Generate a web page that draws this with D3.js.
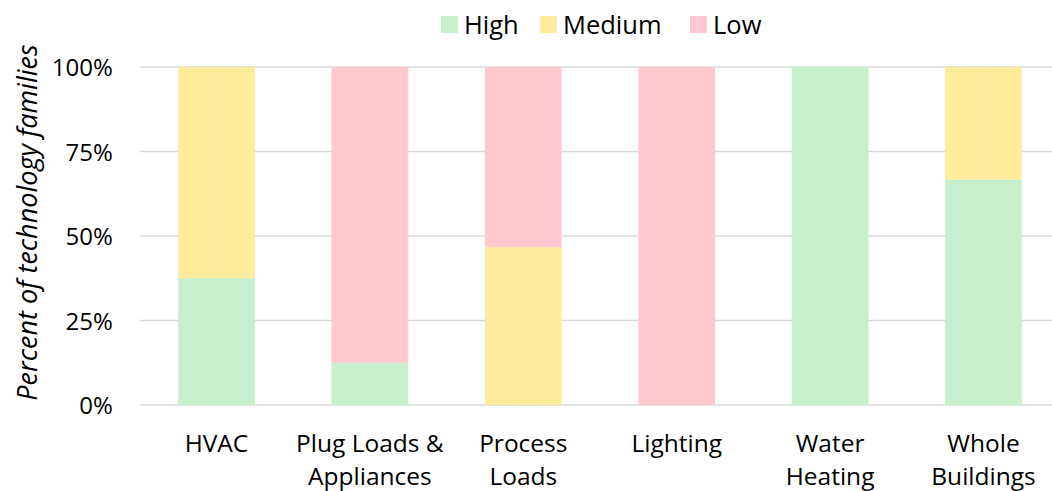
<!DOCTYPE html>
<html>
<head>
<meta charset="utf-8">
<script src="https://cdn.jsdelivr.net/npm/d3@7"></script>
<style>
  html, body { margin: 0; padding: 0; background: #fff; }
  svg { display: block; }
  text { font-family: "Open Sans", Lato, sans-serif; fill: #000; }
</style>
</head>
<body>
<svg id="chart" width="1052" height="491"></svg>
<script>
// Technology families by readiness, share of each end-use category
const categories = [["HVAC"], ["Plug Loads &", "Appliances"], ["Process", "Loads"], ["Lighting"], ["Water", "Heating"], ["Whole", "Buildings"]];
const seriesNames = ["High", "Medium", "Low"];
const highValues   = [0.375, 0.125, 0,     0, 1, 0.667];
const mediumValues = [0.625, 0,     0.467, 0, 0, 0.333];
const lowValues    = [0,     0.875, 0.533, 1, 0, 0];
const seriesColors = ["#C6EFCE", "#FFEB9C", "#FFC7CE"];
const yTicks = [0, 0.25, 0.5, 0.75, 1];

const svg = d3.select("#chart");
const W = 1052, H = 491;
const margin = { left: 139.8, right: -8.2, top: 67, bottom: 86 };

const rows = categories.map((c, i) => ({
  key: i, label: c, High: highValues[i], Medium: mediumValues[i], Low: lowValues[i]
}));

const x = d3.scaleBand()
  .domain(rows.map(r => r.key))
  .range([margin.left, W - margin.right])
  .paddingInner(0.5).paddingOuter(0.25);

const y = d3.scaleLinear().domain([0, 1]).range([H - margin.bottom, margin.top]);

const color = d3.scaleOrdinal().domain(seriesNames).range(seriesColors);

// Gridlines
svg.append("g")
  .selectAll("line").data(yTicks).join("line")
  .attr("x1", margin.left).attr("x2", W)
  .attr("y1", d => y(d)).attr("y2", d => y(d))
  .attr("stroke", "#d9d9d9").attr("stroke-width", 1.5);

// Y-axis tick labels
const yAxis = d3.axisLeft(y).tickValues(yTicks).tickFormat(d3.format(".0%")).tickSize(0).tickPadding(0);
const gy = svg.append("g").attr("transform", `translate(${margin.left - 27},0)`).call(yAxis);
gy.select(".domain").remove();
gy.selectAll("text").attr("font-size", 24).attr("font-family", "'Open Sans', sans-serif").attr("dy", "0.36em");

// Stacked bars
const stack = d3.stack().keys(seriesNames);
const stacked = stack(rows);
svg.append("g").selectAll("g").data(stacked).join("g")
  .attr("fill", d => color(d.key))
  .selectAll("rect").data(d => d.filter(s => s[1] - s[0] > 0)).join("rect")
  .attr("x", d => x(d.data.key))
  .attr("width", x.bandwidth())
  .attr("y", d => y(d[1]))
  .attr("height", d => y(d[0]) - y(d[1]));

// Category labels
const xAxis = svg.append("g");
rows.forEach(r => {
  const cx = x(r.key) + x.bandwidth() / 2;
  const t = xAxis.append("text")
    .attr("x", cx)
    .attr("y", 452)
    .attr("text-anchor", "middle")
    .attr("font-size", 24.5);
  r.label.forEach((line, i) => {
    t.append("tspan").attr("x", cx).attr("dy", i === 0 ? 0 : 33).text(line);
  });
});

// Y-axis title
svg.append("text")
  .attr("transform", `translate(37,${(40 + 405) / 2}) rotate(-90)`)
  .attr("text-anchor", "middle")
  .attr("font-size", 27)
  .attr("font-style", "italic")
  .text("Percent of technology families");

// Legend
const legendX = [441, 540, 690];
const legend = svg.append("g");
seriesNames.forEach((name, i) => {
  legend.append("rect").attr("x", legendX[i]).attr("y", 16).attr("width", 17).attr("height", 17).attr("fill", color(name));
  legend.append("text").attr("x", legendX[i] + 23).attr("y", 24.5).attr("dy", "0.36em").attr("font-size", 25.5).text(name);
});
</script>
</body>
</html>
